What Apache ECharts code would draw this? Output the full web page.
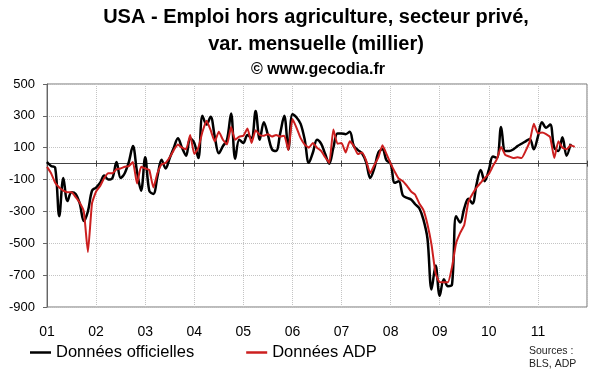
<!DOCTYPE html>
<html><head><meta charset="utf-8">
<script src="https://cdn.jsdelivr.net/npm/echarts@6/dist/echarts.min.js"></script>
<style>html,body{margin:0;padding:0;background:#fff}#c{width:600px;height:372px}</style>
</head><body><div id="c"></div>
<script>
// ---- data ----
const years = [2001, 2002, 2003, 2004, 2005, 2006, 2007, 2008, 2009, 2010, 2011];
const xTickLabels = ['01', '02', '03', '04', '05', '06', '07', '08', '09', '10', '11'];
const yTickLabels = [-900, -700, -500, -300, -100, 100, 300, 500];

// Données officielles (BLS), monthly, Jan 2001 - Sep 2011
const officielles = [
  10, -15, -25, -330, -90, -235, -180, -190, -250, -360, -300, -170,
  -150, -120, -75, -100, -90, 10, -90, -60, 10, 110, -50, -170,
  40, -170, -190, -80, 25, -30, 35, 100, 160, 100, 50, 160,
  130, 35, 300, 245, 295, 170, 65, 110, 150, 315, 30, 150,
  130, 180, 160, 330, 150, 260, 180, 90, 80, 190, 300, 90,
  310, 290, 250, 150, 5, 70, 150, 125, 60, 0, 100, 190,
  190, 185, 200, 110, 85, 65, 10, -90, -30, 70, 90, 20,
  0, -120, -110, -200, -215, -225, -255, -280, -350, -470, -790, -640,
  -830, -725, -770, -760, -330, -370, -280, -220, -250, -130, -40, -110,
  -40, 45, 35, 230, 80, 80, 90, 110, 125, 140, 155, 90,
  170, 260, 225, 245, 100, 80, 165, 50, 125
];
// Données ADP, monthly, Jan 2001 - Oct 2011
const adp = [
  -20, -60, -120, -150, -170, -180, -180, -210, -245, -300, -555, -250,
  -175, -140, -90, -60, -60, -35, -30, -20, -15, 10, -125, -20,
  -30, -40, -150, -60, -5, 5, 40, 85, 120, 100, 90, 180,
  60, 100, 200, 270, 210, 140, 200, 150, 120, 230, 150, 170,
  175, 220, 130, 210, 180, 175, 185, 170, 180, 170, 175, 85,
  280, 225, 160, 120, 100, 130, 100, 80, 40, 5, 215, 125,
  130, 70, 140, 110, 60, 70, 20, -60, -10, 40, 115, 60,
  0, -50, -95, -110, -140, -175, -195, -250, -290, -380, -510, -690,
  -745, -745, -745, -650, -500, -435, -385, -240, -190, -150, -120, -90,
  -65, -15, 30, 105, 55, 45, 35, 40, 35, 80, 140, 250,
  190, 195, 185, 165, 35, 140, 100, 90, 115, 105
];

// ---- categories (months) ----
const months = [];
years.forEach(function (y) {
  for (let m = 1; m <= 12; m++) months.push(y + '-' + String(m).padStart(2, '0'));
});
months.push('2012-01');

const FONT = '"Liberation Sans", Arial, sans-serif';
const isYear = function (i) { return i % 12 === 0; };

const chart = echarts.init(document.getElementById('c'), null, { renderer: 'canvas' });
chart.setOption({
  animation: false,
  backgroundColor: '#fff',
  title: [
    {
      text: 'USA - Emploi hors agriculture, secteur privé,\nvar. mensuelle (millier)',
      left: 316, top: 4, textAlign: 'center', padding: 0,
      textStyle: { fontFamily: FONT, fontSize: 20, fontWeight: 'bold', color: '#000', lineHeight: 27 }
    },
    {
      text: '© www.gecodia.fr',
      left: 318, top: 61, textAlign: 'center', padding: 0,
      textStyle: { fontFamily: FONT, fontSize: 16, fontWeight: 'bold', color: '#000', lineHeight: 18 }
    }
  ],
  legend: {
    left: 30, top: 344, padding: 0, itemGap: 52, icon: 'rect', itemWidth: 21, itemHeight: 2.5,
    textStyle: { fontFamily: FONT, fontSize: 16.5, color: '#000' },
    data: ['Données officielles', 'Données ADP']
  },
  grid: { left: 47, right: 13, top: 84, bottom: 65, show: true, borderColor: '#777', borderWidth: 1 },
  xAxis: [
    {
      type: 'category', data: months, boundaryGap: false, position: 'bottom',
      axisLine: { show: false, onZero: false }, axisTick: { show: false },
      axisLabel: {
        interval: function (i) { return isYear(i) && i < 132; },
        formatter: function (v, i) { return isYear(i) && xTickLabels[i / 12] ? xTickLabels[i / 12] : ''; },
        margin: 18, fontSize: 14, color: '#000', fontFamily: FONT
      },
      splitLine: { show: true, interval: function (i) { return isYear(i); }, lineStyle: { color: '#c4c4c4', type: 'dotted', width: 1 } }
    },
    {
      type: 'category', data: months, boundaryGap: false, position: 'bottom',
      axisLine: { show: true, onZero: true, onZeroAxisIndex: 0, lineStyle: { color: '#444', width: 1 } },
      axisTick: { show: true, interval: function (i) { return isYear(i); }, length: 3, lineStyle: { color: '#444' } },
      axisLabel: { show: false }, splitLine: { show: false }
    },
    {
      type: 'category', data: months, boundaryGap: false, position: 'top',
      axisLine: { show: false, onZero: true, onZeroAxisIndex: 0 },
      axisTick: { show: true, interval: function (i) { return isYear(i); }, length: 3, lineStyle: { color: '#444' } },
      axisLabel: { show: false }, splitLine: { show: false }
    }
  ],
  yAxis: [
    { type: 'value', min: -900, max: 500, show: false, splitLine: { show: false } },
    {
      type: 'value', min: 0, max: 1400, interval: 200, position: 'left',
      axisLine: { show: true, lineStyle: { color: '#666' } },
      axisTick: { show: true, length: 4, lineStyle: { color: '#666' } },
      axisLabel: {
        formatter: function (v) { return String(yTickLabels[Math.round(v / 200)]); },
        margin: 12, fontSize: 13, color: '#000', fontFamily: FONT
      },
      splitLine: { show: true, lineStyle: { color: '#c4c4c4', type: 'dotted', width: 1 } }
    }
  ],
  graphic: [
    {
      type: 'text', left: 529, top: 345,
      style: { text: 'Sources :\nBLS, ADP', font: '10.5px "Liberation Sans", Arial, sans-serif', fill: '#222', lineHeight: 13 }
    }
  ],
  series: [
    {
      name: 'Données officielles', type: 'line', xAxisIndex: 0, yAxisIndex: 0, data: officielles,
      showSymbol: false, smooth: 0.35, lineStyle: { color: '#000', width: 2.5 }, itemStyle: { color: '#000' }, z: 2
    },
    {
      name: 'Données ADP', type: 'line', xAxisIndex: 0, yAxisIndex: 0, data: adp,
      showSymbol: false, smooth: 0.15, lineStyle: { color: '#cc1f1f', width: 2 }, itemStyle: { color: '#cc1f1f' }, z: 3
    }
  ]
});
</script>
</body></html>
